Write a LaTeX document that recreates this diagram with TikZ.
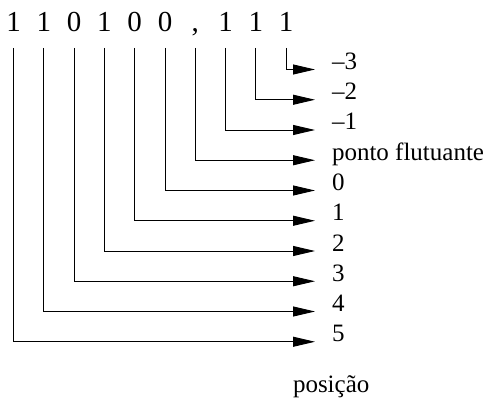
\documentclass[tikz,border=0pt]{standalone}
\usepackage{fontspec}
\setmainfont{Liberation Serif}
\usetikzlibrary{arrows.meta}
\begin{document}
\begin{tikzpicture}[x=1pt,y=1pt,
  every node/.style={inner sep=0pt,outer sep=0pt,font=\fontsize{25}{30}\selectfont},
  digit/.style={anchor=base,font=\fontsize{29}{34}\selectfont},
  poslabel/.style={anchor=base west},
  conn/.style={line width=0.9pt,-{Triangle[length=22pt,width=10pt]},shorten >=17pt}]
\useasboundingbox (0,0) rectangle (486,-403);
% digits of the number, one column every 30.3pt
\foreach \n/\t [count=\i from 0] in {d1/1,d2/1,d3/0,d4/1,d5/0,d6/0,dc/{,},d8/1,d9/1,d10/1}
  \node[digit] (\n) at (13.5+30.3*\i,-32) {\t};
% position labels, one row every 30.25pt
\foreach \n/\t [count=\i from 0] in {lm3/–3,lm2/–2,lm1/–1,lp/ponto flutuante,l0/0,l1/1,l2/2,l3/3,l4/4,l5/5}
  \node[poslabel] (\n) at (332,-69.5-30.25*\i) {\t};
\node[anchor=base west] (pos) at (293,-392) {posição};
% connectors from each digit to its position
\foreach \a/\b in {d1/l5,d2/l4,d3/l3,d4/l2,d5/l1,d6/l0,dc/lp,d8/lm1,d9/lm2,d10/lm3}
  \draw[conn] ([yshift=-16pt]\a.base) |- (\b.base west);
\end{tikzpicture}
\end{document}
